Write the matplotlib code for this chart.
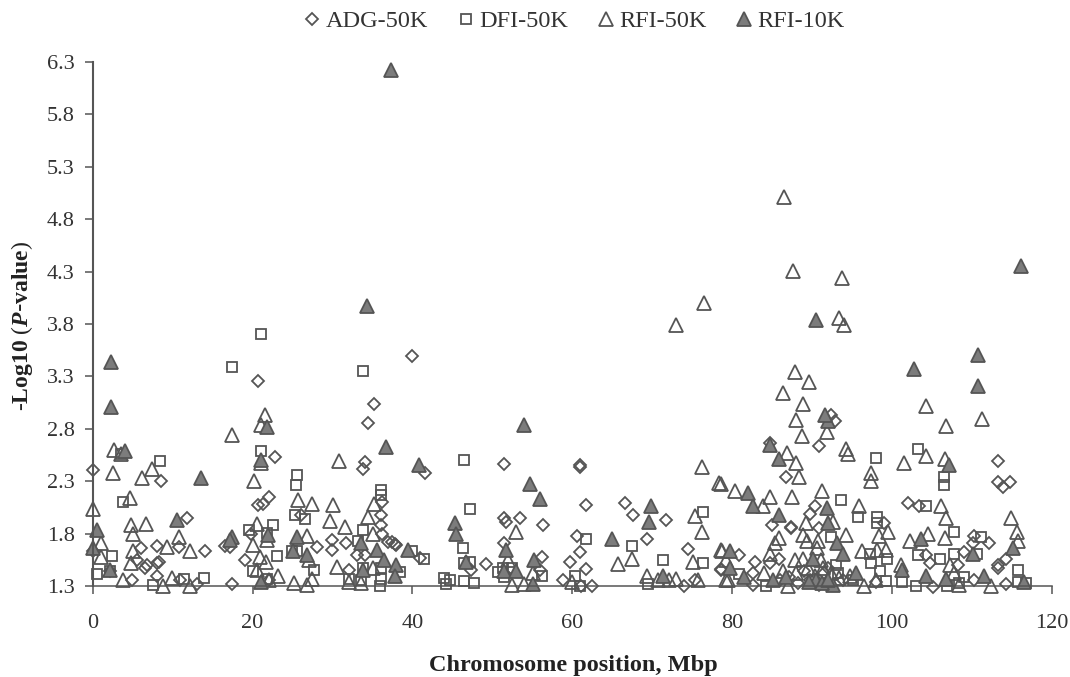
#!/usr/bin/env python3
# -*- coding: utf-8 -*-
import numpy as np
import matplotlib
matplotlib.use("Agg")
import matplotlib.pyplot as plt

plt.rcParams['font.family'] = ['Liberation Serif', 'DejaVu Serif']
plt.rcParams['mathtext.fontset'] = 'custom'
plt.rcParams['mathtext.bfit'] = 'Liberation Serif:italic:bold'
plt.rcParams['mathtext.bf'] = 'Liberation Serif:bold'

# valeurs (position Mbp, -log10 p)
adg_50k = np.array([
    (0, 2.41), (0, 1.63), (8.5, 2.3), (11.75, 1.95), (6, 1.66), (8, 1.68), (10.8, 1.67), (14, 1.63),
    (17.45, 1.32), (16.5, 1.68), (17.2, 1.67), (19, 1.55), (19.8, 1.8), (20.7, 2.07), (21.3, 2.08), (22, 2.15),
    (22.8, 2.53), (20.7, 3.26), (34.5, 2.86), (35.2, 3.04), (34, 2.48), (33.75, 2.42), (36.25, 2.1), (36.1, 1.98),
    (36.1, 1.88), (36.25, 1.8), (37, 1.72), (37.8, 1.7), (29.9, 1.74), (29.9, 1.64), (31.7, 1.71), (33.1, 1.6),
    (34, 1.6), (32, 1.45), (26.1, 1.98), (28, 1.67), (8, 1.52), (8.3, 1.53), (8, 1.4), (5.5, 1.55),
    (6.75, 1.5), (6.5, 1.47), (4.9, 1.36), (10.9, 1.36), (13, 1.32), (2.2, 1.44), (22, 1.36), (40, 3.49),
    (41.6, 2.38), (51.5, 2.46), (60.9, 2.44), (61, 2.45), (61.7, 2.07), (66.6, 2.09), (67.6, 1.98), (71.7, 1.93),
    (69.4, 1.75), (74.5, 1.65), (51.5, 1.95), (51.7, 1.91), (53.5, 1.95), (56.3, 1.88), (60.6, 1.78), (60.9, 1.62),
    (59.7, 1.53), (61.7, 1.46), (56.2, 1.58), (51.5, 1.71), (49.2, 1.51), (47.3, 1.45), (55.9, 1.45), (58.8, 1.36),
    (61.1, 1.3), (62.5, 1.3), (74, 1.3), (75.4, 1.36), (78.6, 1.46), (37.9, 1.69), (37.4, 1.72), (40.9, 1.57),
    (90.8, 2.64), (92.4, 2.93), (92.8, 2.87), (84.7, 2.66), (86.7, 2.34), (85, 1.88), (87.3, 1.85), (87.4, 1.86),
    (80.9, 1.6), (82.9, 1.53), (85.9, 1.56), (90.3, 2.06), (89.7, 1.99), (90.9, 1.85), (113.3, 2.49), (113.2, 2.29),
    (113.9, 2.24), (114.7, 2.29), (102, 2.09), (103.4, 2.06), (99, 1.9), (110.3, 1.78), (110.1, 1.71), (112.1, 1.71),
    (109, 1.62), (108.2, 1.5), (114.2, 1.56), (113.3, 1.5), (113.3, 1.47), (114.2, 1.32), (110.3, 1.36), (104.7, 1.52),
    (104.2, 1.6), (105.1, 1.29), (98, 1.34), (82.6, 1.31), (82.6, 1.42), (84.7, 1.52), (78.6, 1.45), (90.9, 1.31),
    (93.8, 1.36), (89.7, 1.36), (87.1, 1.39), (89, 1.44), (91.5, 1.42), (88.2, 1.33), (92, 1.47), (86, 1.36),
])

dfi_50k = np.array([
    (8.4, 2.49), (3.75, 2.1), (2.4, 1.59), (0.6, 1.41), (2.2, 1.44), (7.5, 1.31), (11.4, 1.37), (13.9, 1.38),
    (21, 2.59), (22.6, 1.88), (19.6, 1.83), (21.75, 1.81), (23.1, 1.59), (20, 1.44), (21.8, 1.37), (25.6, 2.36),
    (25.4, 2.26), (25.3, 1.98), (26.5, 1.94), (27.7, 1.45), (32.1, 1.37), (33.2, 1.73), (33.8, 1.83), (36.1, 2.22),
    (36.1, 2.17), (33.75, 1.47), (33.6, 1.36), (36.1, 1.37), (36, 1.3), (36.1, 1.47), (24.9, 1.63), (25.6, 1.63),
    (17.4, 3.39), (21, 3.7), (33.8, 3.35), (3.6, 2.56), (46.5, 2.5), (47.2, 2.03), (46.3, 1.66), (47.2, 1.53),
    (46.4, 1.52), (41.5, 1.56), (39.9, 1.63), (44, 1.38), (44.7, 1.36), (44.2, 1.32), (46.4, 1.35), (47.7, 1.33),
    (50.7, 1.43), (51.3, 1.47), (52.4, 1.47), (51.5, 1.39), (56.2, 1.4), (60.3, 1.4), (61, 1.3), (61.7, 1.75),
    (67.5, 1.68), (71.3, 1.55), (76.4, 2.01), (76.4, 1.52), (69.5, 1.32), (38.4, 1.43), (98, 2.52), (103.3, 2.61),
    (106.5, 2.34), (106.5, 2.26), (93.6, 2.12), (104.3, 2.06), (95.7, 1.96), (98.1, 1.96), (98.1, 1.9), (107.7, 1.82),
    (111.1, 1.77), (110.6, 1.61), (107.8, 1.61), (106, 1.56), (103.3, 1.6), (99.4, 1.56), (97.2, 1.61), (93, 1.5),
    (92.4, 1.77), (97.4, 1.52), (98.5, 1.44), (99.2, 1.35), (115.7, 1.45), (115.7, 1.34), (116.7, 1.33), (109, 1.39),
    (103, 1.3), (101.2, 1.34), (84.2, 1.3), (95.1, 1.36), (80.9, 1.41), (106.9, 1.3), (108.4, 1.33), (93.2, 1.42),
])

rfi_50k = np.array([
    (2.7, 2.6), (3.6, 2.56), (2.5, 2.38), (0, 2.03), (1.1, 1.71), (1.1, 1.58), (4.7, 2.14), (4.8, 1.88),
    (5.1, 1.8), (6.7, 1.89), (7.4, 2.42), (6.2, 2.33), (5, 1.63), (4.8, 1.52), (9.25, 1.67), (10.8, 1.77),
    (12.2, 1.63), (3.8, 1.36), (9.9, 1.38), (8.8, 1.3), (12.2, 1.3), (17.4, 2.74), (20.2, 2.3), (21.6, 2.93),
    (21.1, 2.84), (20.5, 1.89), (20, 1.69), (21.75, 1.74), (20.9, 1.58), (21.7, 1.53), (20.6, 1.45), (23.2, 1.4),
    (22, 1.36), (21, 2.47), (25.7, 2.12), (27.4, 2.08), (30.1, 2.07), (29.7, 1.92), (31.5, 1.86), (30.8, 2.49),
    (34.5, 1.96), (35.2, 2.08), (35.1, 1.8), (26.85, 1.78), (27, 1.55), (27.4, 1.37), (25.2, 1.33), (26.75, 1.31),
    (30.5, 1.48), (32, 1.34), (33.5, 1.33), (35.1, 1.47), (52.9, 1.82), (52, 1.55), (52.4, 1.31), (54, 1.32),
    (55.1, 1.42), (76.2, 2.44), (78.3, 2.28), (75.3, 1.97), (76.2, 1.82), (75.1, 1.53), (78.7, 1.63), (65.7, 1.51),
    (67.4, 1.56), (69.4, 1.4), (70.7, 1.36), (72.1, 1.36), (73, 1.37), (75.7, 1.36), (79.2, 1.36), (79.2, 1.55),
    (60, 1.34), (73, 3.79), (76.5, 4.0), (86.5, 5.01), (87.6, 4.31), (93.7, 4.24), (93.4, 3.86), (94, 3.79),
    (87.9, 3.34), (89.6, 3.25), (86.4, 3.14), (88.9, 3.04), (88, 2.88), (88.7, 2.73), (91.9, 2.77), (86.9, 2.57),
    (88, 2.47), (88.3, 2.34), (94.2, 2.61), (94.5, 2.56), (104.2, 3.02), (106.8, 2.83), (111.2, 2.89), (104.2, 2.54),
    (101.5, 2.47), (106.6, 2.51), (97.4, 2.38), (97.4, 2.3), (78.6, 2.27), (80.4, 2.21), (84.7, 2.15), (83.8, 2.06),
    (87.5, 2.15), (91.2, 2.21), (95.8, 2.06), (106.1, 2.06), (106.8, 1.95), (114.9, 1.95), (115.6, 1.82), (115.8, 1.73),
    (104.5, 1.8), (102.2, 1.73), (106.6, 1.76), (99.5, 1.82), (98.3, 1.78), (94.2, 1.79), (85.9, 1.76), (85.3, 1.71),
    (84.7, 1.61), (88.9, 1.79), (89.3, 1.73), (90.6, 1.66), (89.2, 1.9), (92.6, 1.91), (87.8, 1.55), (96.2, 1.63),
    (98.1, 1.64), (99.2, 1.64), (78.6, 1.64), (101.1, 1.5), (107.2, 1.5), (112.4, 1.3), (96.5, 1.3), (87, 1.3),
    (79.5, 1.36), (84, 1.42), (91.1, 1.55), (88.8, 1.56), (107.8, 1.42), (108.4, 1.31), (98, 1.36), (90.7, 1.73),
    (86.3, 1.44), (88, 1.42), (89.5, 1.47), (90.4, 1.4), (91.4, 1.47), (92.4, 1.42), (93.4, 1.38), (94.7, 1.4),
])

rfi_10k = np.array([
    (37.3, 6.22), (34.3, 3.97), (2.3, 3.44), (2.3, 3.01), (4.1, 2.59), (0.5, 1.83), (0, 1.66), (13.5, 2.33),
    (10.6, 1.93), (21.1, 2.5), (21.8, 2.82), (36.75, 2.63), (25.5, 1.77), (21.9, 1.79), (2.2, 1.45), (21.1, 1.34),
    (25.1, 1.63), (35.6, 1.64), (36.5, 1.55), (37.9, 1.5), (37.8, 1.4), (26.8, 1.6), (17.4, 1.77), (17.2, 1.74),
    (33.6, 1.71), (33.75, 1.45), (54, 2.84), (54.7, 2.27), (56, 2.13), (40.8, 2.45), (45.3, 1.9), (45.5, 1.8),
    (69.9, 2.06), (69.6, 1.91), (65, 1.75), (39.5, 1.64), (46.7, 1.53), (51.7, 1.64), (55.2, 1.55), (51.5, 1.44),
    (53, 1.44), (55.1, 1.32), (71.4, 1.4), (110.8, 3.5), (110.8, 3.21), (92, 2.87), (91.6, 2.93), (85.9, 2.51),
    (84.7, 2.65), (82, 2.19), (82.6, 2.06), (85.9, 1.98), (91.9, 2.04), (92, 1.9), (93.1, 1.71), (93.9, 1.61),
    (79.7, 1.63), (79.7, 1.47), (81.5, 1.39), (85.1, 1.36), (90.1, 1.56), (90.5, 1.36), (92.6, 1.31), (95.5, 1.42),
    (101.2, 1.45), (103.6, 1.75), (104.2, 1.4), (106.7, 1.37), (107.1, 2.45), (115.1, 1.66), (111.5, 1.4), (110.1, 1.61),
    (116.5, 1.34), (86.7, 1.39), (90.5, 3.84), (102.7, 3.37), (116.1, 4.35), (89.6, 1.34), (91.2, 1.33), (92, 1.36),
])

series_names = ['ADG-50K', 'DFI-50K', 'RFI-50K', 'RFI-10K']
y_ticks = [1.3, 1.8, 2.3, 2.8, 3.3, 3.8, 4.3, 4.8, 5.3, 5.8, 6.3]
x_ticks = [0, 20, 40, 60, 80, 100, 120]

fig = plt.figure(figsize=(10.7, 6.77), dpi=100)
ax = fig.add_axes([92.7/1070, 1 - 586/677, (1052 - 92.7)/1070, (586 - 62)/677])

edge = '#555555'
ax.plot(adg_50k[:, 0], adg_50k[:, 1], ls='none', marker='D', ms=6.5, mfc='none', mec=edge, mew=1.3,
        clip_on=False, label=series_names[0])
ax.plot(dfi_50k[:, 0], dfi_50k[:, 1], ls='none', marker='s', ms=7.6, mfc='none', mec=edge, mew=1.3,
        clip_on=False, label=series_names[1])
ax.plot(rfi_50k[:, 0], rfi_50k[:, 1], ls='none', marker='^', ms=9.5, mfc='none', mec=edge, mew=1.3,
        clip_on=False, label=series_names[2])
ax.plot(rfi_10k[:, 0], rfi_10k[:, 1], ls='none', marker='^', ms=9.5, mfc='#7c7c7c', mec=edge, mew=1.3,
        clip_on=False, label=series_names[3])

ax.set_xlim(0, 120)
ax.set_ylim(1.3, 6.3)
ax.set_xticks(x_ticks)
ax.set_yticks(y_ticks)
ax.set_yticklabels(['%.1f' % v for v in y_ticks])
ax.tick_params(axis='both', labelsize=16, colors='#333333', color=edge, width=1.1, length=6, pad=7)
ax.tick_params(axis='x', pad=14.5)

ax.spines['top'].set_visible(False)
ax.spines['right'].set_visible(False)
ax.spines['left'].set_color(edge)
ax.spines['bottom'].set_color(edge)
ax.spines['left'].set_linewidth(1.5)
ax.spines['bottom'].set_linewidth(1.1)

fig.text(573/1070, 1 - 666/677, 'Chromosome position, Mbp', ha='center', va='center',
         fontsize=17.5, fontweight='bold', color='#222222')
fig.text(22/1070, 1 - 326/677, r'-$\mathbf{Log10}$ ($\bfit{P}$$\mathbf{\text{-}value}$)', rotation=90,
         ha='center', va='center', fontsize=17, color='#222222')

ax.legend(loc='center', bbox_to_anchor=(575/1070, 1 - 21/677), bbox_transform=fig.transFigure, ncol=4,
          frameon=False, fontsize=17.5, handlelength=0.6, handletextpad=0.25, columnspacing=1.25,
          labelcolor='#333333', borderpad=0)

fig.savefig('out.png', dpi=100)
